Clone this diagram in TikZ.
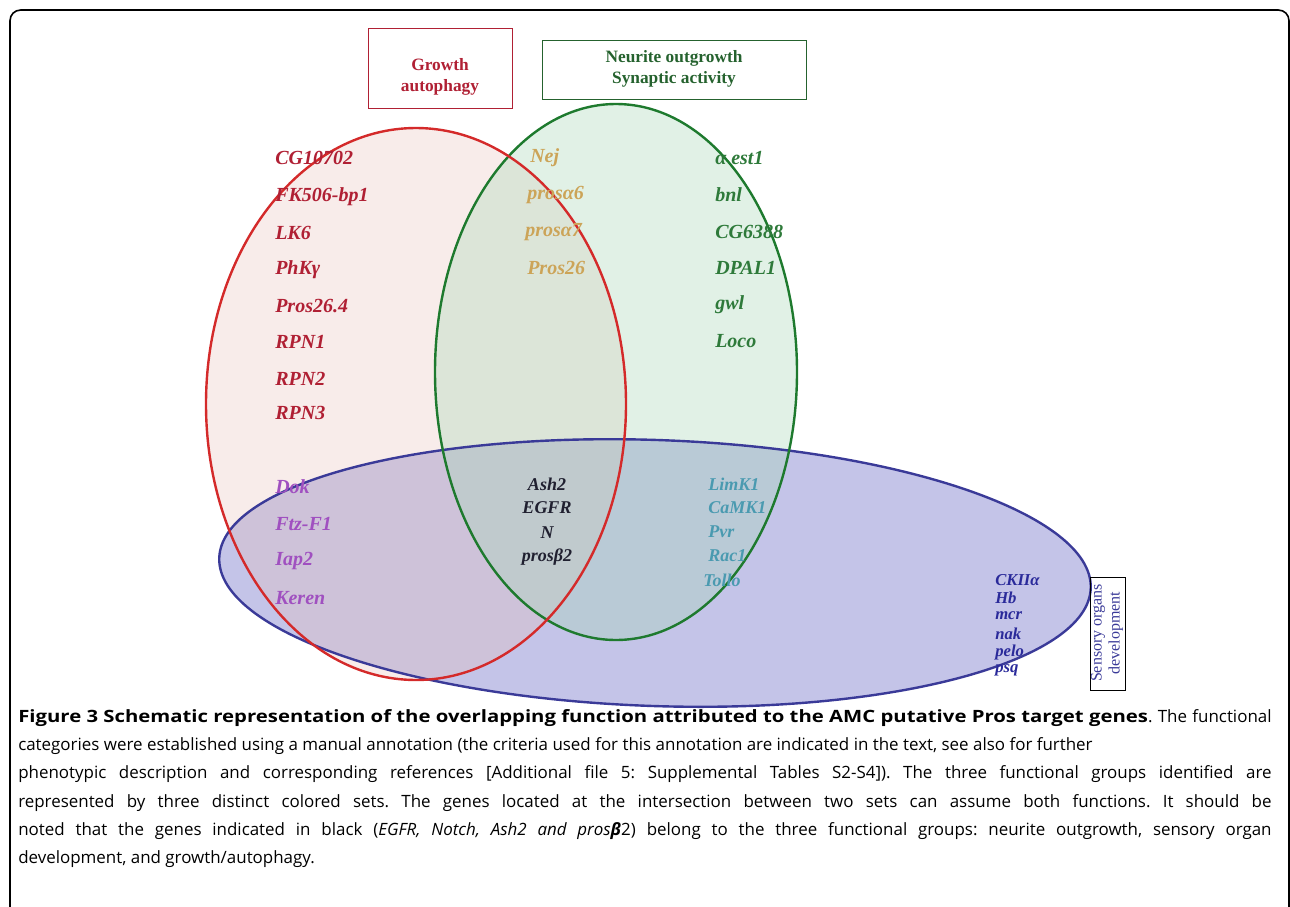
\documentclass[tikz,border=0pt]{standalone}
\usepackage{fontspec}
\setmainfont{Liberation Serif}
\newfontfamily\capfont{Open Sans}
\usepackage{tikz}
\usetikzlibrary{positioning}

\definecolor{redline}{HTML}{D42A2A}
\definecolor{greenline}{HTML}{1E7A2E}
\definecolor{blueline}{HTML}{3A3A98}
\definecolor{redfill}{HTML}{E8C0B8}
\definecolor{greenfill}{HTML}{A8D8B8}
\definecolor{bluefill}{HTML}{9C9CD8}
\definecolor{redtext}{HTML}{B02034}
\definecolor{tantext}{HTML}{CCA458}
\definecolor{greentext}{HTML}{2E7A3A}
\definecolor{purpletext}{HTML}{A050C0}
\definecolor{tealtext}{HTML}{4A9AB0}
\definecolor{bluetext}{HTML}{2A2A9A}
\definecolor{darktext}{HTML}{202030}

\newcommand\capline[1]{\makebox[940pt][s]{#1}}

\tikzset{
  gene/.style={anchor=west, inner sep=0pt, font=\fontsize{15}{15}\selectfont\bfseries\itshape},
  smallgene/.style={gene, font=\fontsize{13.5}{13.5}\selectfont\bfseries\itshape},
  tinygene/.style={gene, font=\fontsize{12.5}{12.5}\selectfont\bfseries\itshape},
  titlebox/.style={draw, thin},
  title/.style={align=center, inner sep=0pt, font=\fontsize{13}{15.5}\selectfont\bfseries},
}

\begin{document}
\frenchspacing
\begin{tikzpicture}[x=0.75pt, y=-0.75pt]
  \useasboundingbox (0,0) rectangle (1290,907);
  % frame
  \draw[line width=1.2pt, rounded corners=8] (10,907) -- (10,10) -- (1289,10) -- (1289,907);

  % the three sets
  \fill[bluefill, fill opacity=0.6, rotate around={-2:(655,573)}] (655,573) ellipse [x radius=436, y radius=133];
  \fill[redfill, fill opacity=0.3] (416,404) ellipse [x radius=210, y radius=276];
  \fill[greenfill, fill opacity=0.35] (616,372) ellipse [x radius=181, y radius=268];
  \draw[blueline, line width=1.8pt, rotate around={-2:(655,573)}] (655,573) ellipse [x radius=436, y radius=133];
  \draw[greenline, line width=1.8pt] (616,372) ellipse [x radius=181, y radius=268];
  \draw[redline, line width=1.8pt] (416,404) ellipse [x radius=210, y radius=276];

  % titles
  \draw[titlebox, draw=redtext] (368,28) rectangle (512,108);
  \node[title, text=redtext] (growth) at (440,77) {Growth\\autophagy};
  \draw[titlebox, draw=greentext!80!black] (542,40) rectangle (806,99);
  \node[title, text=greentext!80!black] (neurite) at (674,69) {Neurite outgrowth\\Synaptic activity};
  \draw[titlebox, draw=black] (1090,577) rectangle (1125,690);
  \node[title, text=blueline, rotate=90, font=\fontsize{12}{13.5}\selectfont] (sensory) at (1107,633)
    {Sensory organs\\development};

  % growth / autophagy
  \node[gene, text=redtext] (cg10702) at (275,158) {CG10702};
  \node[gene, text=redtext] (fk506) at (275,197) {FK506-bp1};
  \node[gene, text=redtext] (lk6) at (275,233) {LK6};
  \node[gene, text=redtext] (phk) at (275,270) {PhKγ};
  \node[gene, text=redtext] (pros264) at (275,306) {Pros26.4};
  \node[gene, text=redtext] (rpn1) at (275,342) {RPN1};
  \node[gene, text=redtext] (rpn2) at (275,379) {RPN2};
  \node[gene, text=redtext] (rpn3) at (275,413) {RPN3};

  % growth and neurite
  \node[gene, text=tantext] (nej) at (530,158) {Nej};
  \node[gene, text=tantext] (prosa6) at (527,195) {prosα6};
  \node[gene, text=tantext] (prosa7) at (525,232) {prosα7};
  \node[gene, text=tantext] (pros26) at (527,268) {Pros26};

  % neurite
  \node[gene, text=greentext] (aest1) at (715,158) {α est1};
  \node[gene, text=greentext] (bnl) at (715,195) {bnl};
  \node[gene, text=greentext] (cg6388) at (715,232) {CG6388};
  \node[gene, text=greentext] (dpal1) at (715,268) {DPAL1};
  \node[gene, text=greentext] (gwl) at (715,305) {gwl};
  \node[gene, text=greentext] (loco) at (715,341) {Loco};

  % growth and sensory
  \node[gene, text=purpletext] (dok) at (275,487) {Dok};
  \node[gene, text=purpletext] (ftzf1) at (275,524) {Ftz-F1};
  \node[gene, text=purpletext] (iap2) at (275,561) {Iap2};
  \node[gene, text=purpletext] (keren) at (275,598) {Keren};

  % all three
  \node[smallgene, anchor=center, text=darktext] (ash2) at (547,484) {Ash2};
  \node[smallgene, anchor=center, text=darktext] (egfr) at (547,508) {EGFR};
  \node[smallgene, anchor=center, text=darktext] (notch) at (547,533) {N};
  \node[smallgene, anchor=center, text=darktext] (prosb2) at (547,557) {prosβ2};

  % neurite and sensory
  \node[smallgene, text=tealtext] (limk1) at (708,484) {LimK1};
  \node[smallgene, text=tealtext] (camk1) at (708,508) {CaMK1};
  \node[smallgene, text=tealtext] (pvr) at (708,532) {Pvr};
  \node[smallgene, text=tealtext] (rac1) at (708,556) {Rac1};
  \node[smallgene, text=tealtext] (tollo) at (703,580) {Tollo};

  % sensory
  \node[tinygene, text=bluetext] (ckii) at (995,580) {CKIIα};
  \node[tinygene, text=bluetext] (hb) at (995,598) {Hb};
  \node[tinygene, text=bluetext] (mcr) at (995,616) {mcr};
  \node[tinygene, text=bluetext] (nak) at (995,634) {nak};
  \node[tinygene, text=bluetext] (pelo) at (995,652) {pelo};
  \node[tinygene, text=bluetext] (psq) at (995,670) {psq};

  % caption
  \node[anchor=north west, inner sep=0pt, align=left, font=\capfont\fontsize{12.7}{21.2}\selectfont] (caption) at (18,709)
  {\capline{\scalebox{1.2}[1]{\textbf{Figure 3 Schematic representation of the overlapping function attributed to the AMC putative Pros target genes}}. The functional}\\
  categories were established using a manual annotation (the criteria used for this annotation are indicated in the text, see also for further\\
  \capline{phenotypic description and corresponding references [Additional file 5: Supplemental Tables S2-S4]). The three functional groups identified are}\\
  \capline{represented by three distinct colored sets. The genes located at the intersection between two sets can assume both functions. It should be}\\
  \capline{noted that the genes indicated in black (\textit{EGFR, Notch, Ash2 and pros}\textbf{\textit{β}}2) belong to the three functional groups: neurite outgrowth, sensory organ}\\
  development, and growth/autophagy.};
\end{tikzpicture}
\end{document}
